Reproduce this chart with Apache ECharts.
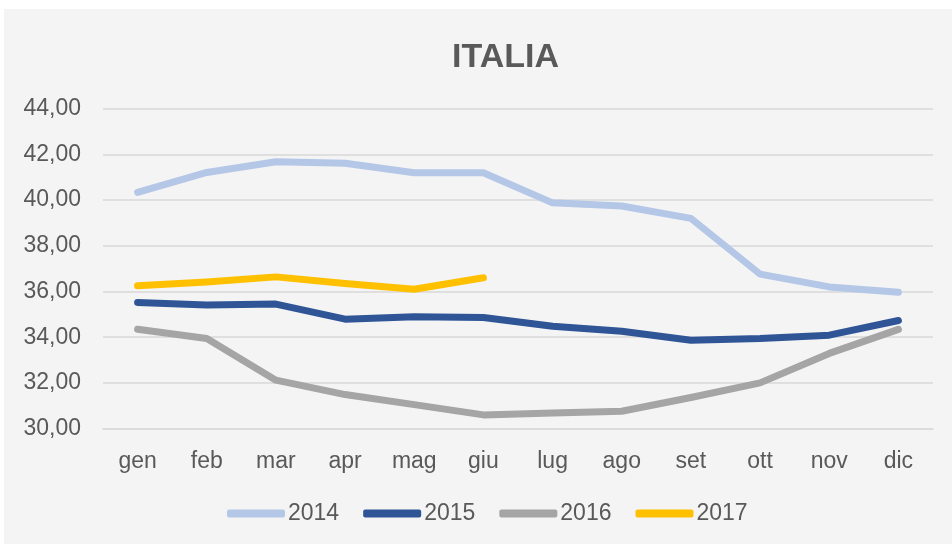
<!DOCTYPE html>
<html>
<head>
<meta charset="utf-8">
<script src="https://cdn.jsdelivr.net/npm/echarts@6/dist/echarts.min.js"></script>
<style>
  html, body { margin: 0; padding: 0; background: #ffffff; }
  #chart {
    position: absolute;
    left: 4px;
    top: 9px;
    width: 948px;
    height: 535px;
    background: #f4f4f4;
  }
</style>
</head>
<body>
<div id="chart"></div>
<script>
const months = ['gen', 'feb', 'mar', 'apr', 'mag', 'giu', 'lug', 'ago', 'set', 'ott', 'nov', 'dic'];
const seriesNames = ['2014', '2015', '2016', '2017'];
const values2014 = [40.34, 41.21, 41.68, 41.61, 41.20, 41.20, 39.88, 39.74, 39.20, 36.76, 36.20, 35.97];
const values2015 = [35.52, 35.41, 35.45, 34.79, 34.89, 34.86, 34.48, 34.26, 33.87, 33.94, 34.09, 34.73];
const values2016 = [34.35, 33.94, 32.12, 31.49, 31.05, 30.60, 30.68, 30.76, 31.36, 32.00, 33.29, 34.34];
const values2017 = [36.25, 36.42, 36.64, 36.35, 36.10, 36.60];
const colors = ['#b4c7e7', '#2f5597', '#a5a5a5', '#ffc000'];

const textColor = '#595959';
const font = 'Liberation Sans';

const chart = echarts.init(document.getElementById('chart'), null, { renderer: 'canvas' });

const allValues = [values2014, values2015, values2016, values2017];

const option = {
    color: colors,
    backgroundColor: 'transparent',
    animation: false,
    title: {
        text: 'ITALIA',
        left: 448,
        top: 32,
        padding: 0,
        textStyle: {
            color: textColor,
            fontFamily: font,
            fontWeight: 'bold',
            fontSize: 34
        }
    },
    legend: {
        data: seriesNames,
        left: 223,
        top: 493,
        padding: 0,
        icon: 'roundRect',
        itemWidth: 58,
        itemHeight: 8,
        itemGap: 24,
        textStyle: {
            color: textColor,
            fontFamily: font,
            fontSize: 23,
            padding: [0, 0, 0, -2]
        }
    },
    grid: {
        left: 99,
        right: 19,
        top: 99.7,
        bottom: 115.4,
        containLabel: false
    },
    xAxis: {
        type: 'category',
        data: months,
        boundaryGap: true,
        axisLine: { show: true, lineStyle: { color: '#d9d9d9', width: 1.5 } },
        axisTick: { show: false },
        axisLabel: {
            color: textColor,
            fontFamily: font,
            fontSize: 23,
            margin: 22
        },
        splitLine: { show: false }
    },
    yAxis: {
        type: 'value',
        min: 30,
        max: 44,
        interval: 2,
        axisLine: { show: false },
        axisTick: { show: false },
        axisLabel: {
            color: textColor,
            fontFamily: font,
            fontSize: 23,
            margin: 22,
            formatter: (v) => v.toFixed(2).replace('.', ',')
        },
        splitLine: {
            lineStyle: { color: '#d9d9d9', width: 1.5 }
        }
    },
    series: seriesNames.map((name, i) => ({
        name: name,
        type: 'line',
        data: allValues[i],
        symbol: 'none',
        smooth: false,
        lineStyle: {
            width: 7,
            color: colors[i],
            cap: 'round',
            join: 'round'
        },
        itemStyle: { color: colors[i] }
    }))
};

chart.setOption(option);
</script>
</body>
</html>
